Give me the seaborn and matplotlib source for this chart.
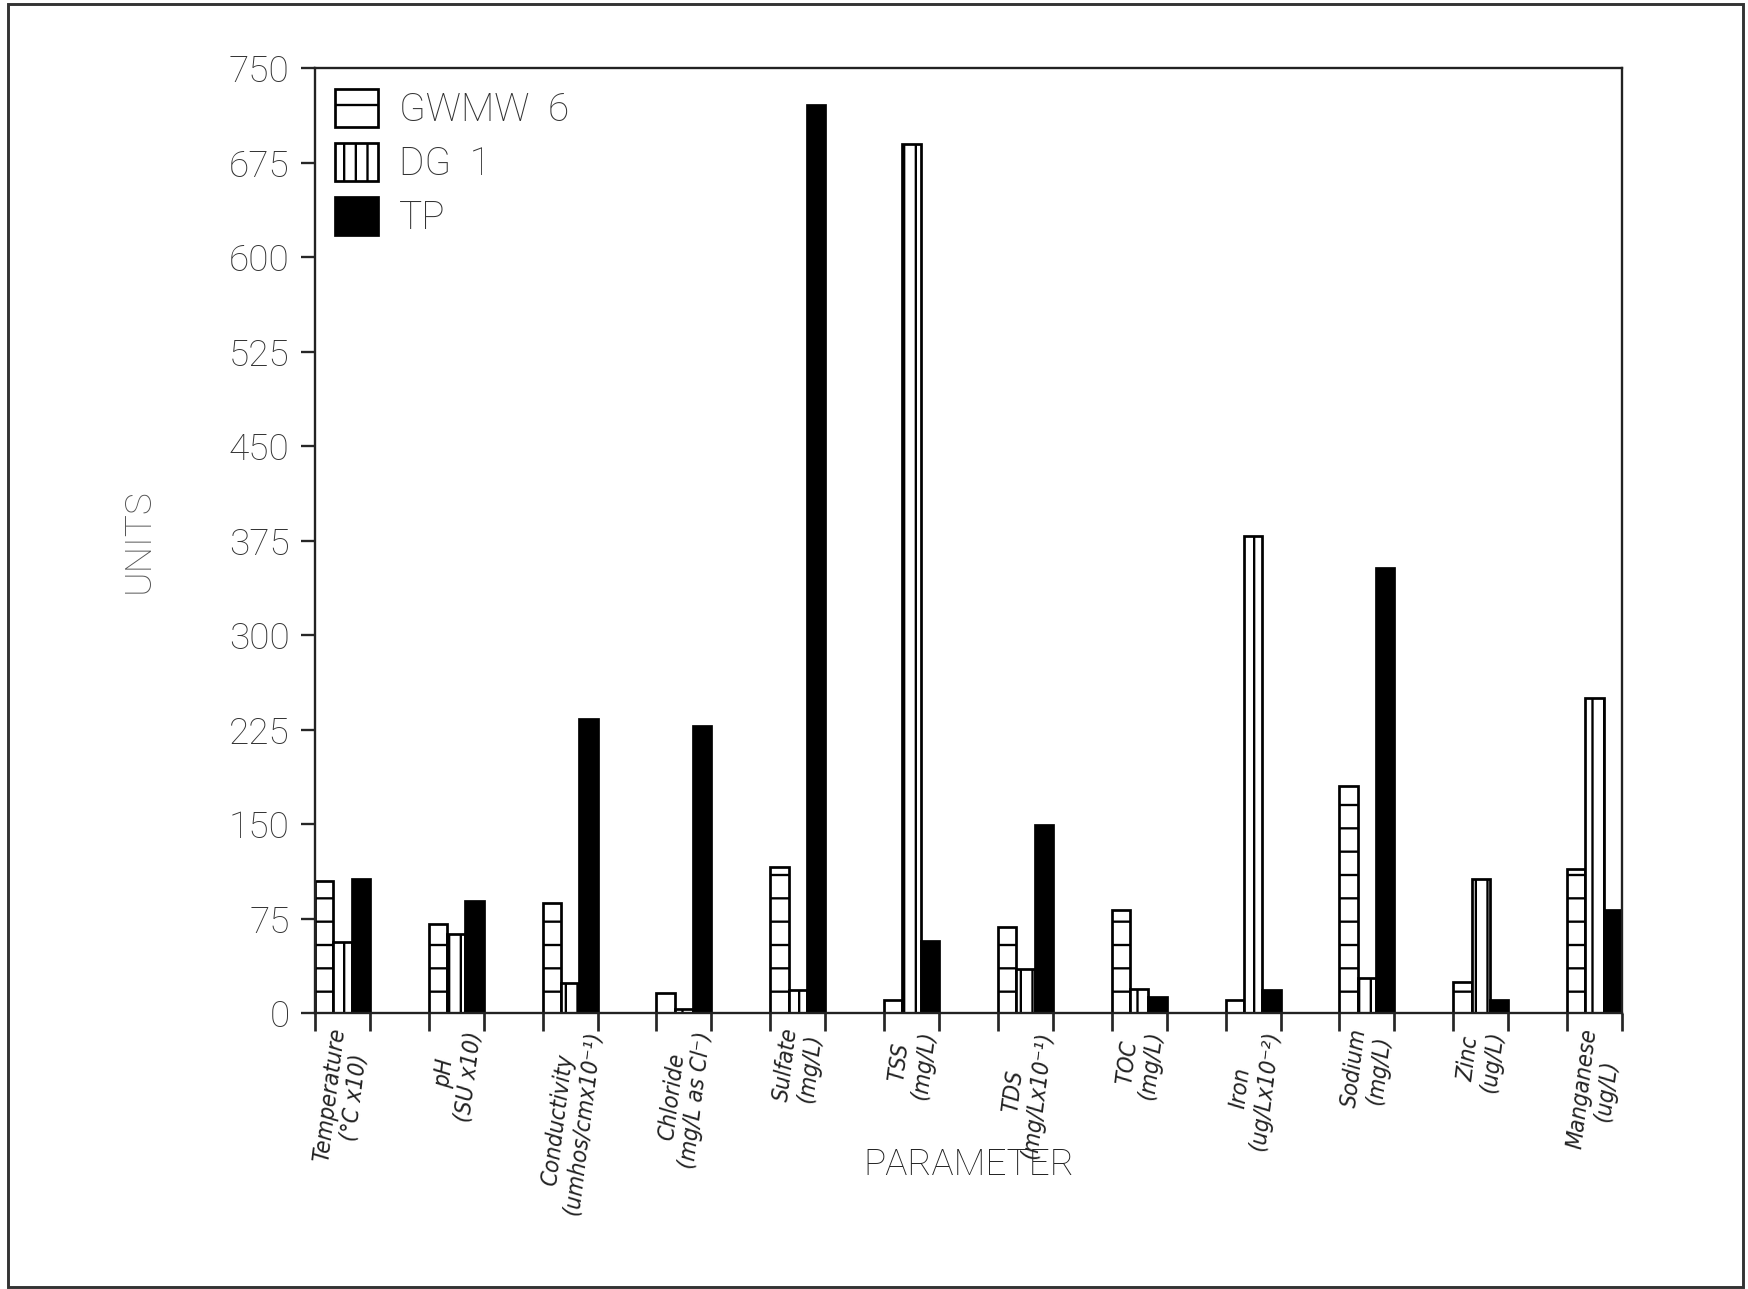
import numpy as np
import pandas as pd
import matplotlib
matplotlib.use("Agg")
import matplotlib.pyplot as plt
from matplotlib.patches import Patch, Rectangle
import seaborn as sns

params = ["Temperature\n(°C x10)", "pH\n(SU x10)", "Conductivity\n(umhos/cmx10⁻¹)",
          "Chloride\n(mg/L as Cl⁻)", "Sulfate\n(mg/L)", "TSS\n(mg/L)",
          "TDS\n(mg/Lx10⁻¹)", "TOC\n(mg/L)", "Iron\n(ug/Lx10⁻²)",
          "Sodium\n(mg/L)", "Zinc\n(ug/L)", "Manganese\n(ug/L)"]
wells = ["GWMW  6", "DG  1", "TP"]
gwmw6 = [105, 71, 87, 16, 116, 10, 68, 82, 10, 180, 25, 114]
dg1 = [56, 63, 24, 3, 18, 690, 35, 19, 379, 28, 106, 250]
tp = [106, 89, 233, 228, 721, 57, 149, 13, 18, 353, 10, 82]
yticks = np.arange(0, 751, 75)

df = pd.DataFrame({
    "param": params * 3,
    "well": [w for w in wells for _ in params],
    "value": gwmw6 + dg1 + tp,
})

sns.set_style("ticks")
plt.rcParams["font.family"] = ["Roboto", "DejaVu Sans"]
plt.rcParams["hatch.linewidth"] = 1.2
plt.rcParams["hatch.color"] = "black"

dpi = 140
fig = plt.figure(figsize=(1748 / dpi, 1289 / dpi), dpi=dpi)
ax = fig.add_axes([0.1802, 0.2141, 0.928 - 0.1802, 0.9472 - 0.2141])

gw = 0.483
sns.barplot(data=df, x="param", y="value", hue="well", order=params, hue_order=wells,
            palette=["white", "white", "black"], edgecolor="black", linewidth=1.4,
            width=gw, gap=0, saturation=1, legend=False, errorbar=None, ax=ax)

hatches = ["-", "||", ""]
for cont, h in zip(ax.containers, hatches):
    for bar in cont:
        bar.set_hatch(h)

ax.set_xlim(-gw / 2, len(params) - 1 + gw / 2)
ax.set_ylim(0, 750)
ax.set_yticks(yticks)
ax.set_yticklabels([str(v) for v in yticks], fontsize=19, fontweight="light", color="#333333")
ax.tick_params(axis="y", length=7, width=1.2, pad=6)

ax.set_xticks(range(len(params)))
ax.set_xticklabels(params, rotation=83, ha="center", va="top", fontsize=12,
                   fontstyle="italic", fontstretch="condensed", family=["DejaVu Sans"],
                   color="#222222", linespacing=1.1)
ax.tick_params(axis="x", which="major", length=0, pad=7)
edges = np.concatenate([np.arange(len(params)) - gw / 2, np.arange(len(params)) + gw / 2])
ax.set_xticks(edges, minor=True)
ax.tick_params(axis="x", which="minor", length=9, width=1.4, direction="out")

for s in ax.spines.values():
    s.set_linewidth(1.2)
    s.set_color("#222222")

ax.set_ylabel("UNITS", fontsize=19, fontweight="light", color="#555555")
ax.yaxis.set_label_coords(-0.121, 0.5)
ax.set_xlabel("PARAMETER", fontsize=19, fontweight="light", color="#222222")
ax.xaxis.set_label_coords(0.5, -0.1418)

handles = [Patch(facecolor="white", edgecolor="black", hatch="-", linewidth=1.4),
           Patch(facecolor="white", edgecolor="black", hatch="||", linewidth=1.4),
           Patch(facecolor="black", edgecolor="black", linewidth=1.4)]
leg = ax.legend(handles, wells, loc="upper left", bbox_to_anchor=(0.0153, 0.978),
                frameon=False, borderpad=0, borderaxespad=0, fontsize=20,
                handlelength=1.1, handleheight=1.13, labelspacing=0.35, handletextpad=0.55)
for t in leg.get_texts():
    t.set_fontweight("light")
    t.set_color("#333333")

fig.add_artist(Rectangle((0.0046, 0.0015), 0.9924, 0.9955, transform=fig.transFigure,
                         fill=False, linewidth=1.5, edgecolor="#333333"))

fig.savefig("out.png", dpi=dpi, facecolor="white")
